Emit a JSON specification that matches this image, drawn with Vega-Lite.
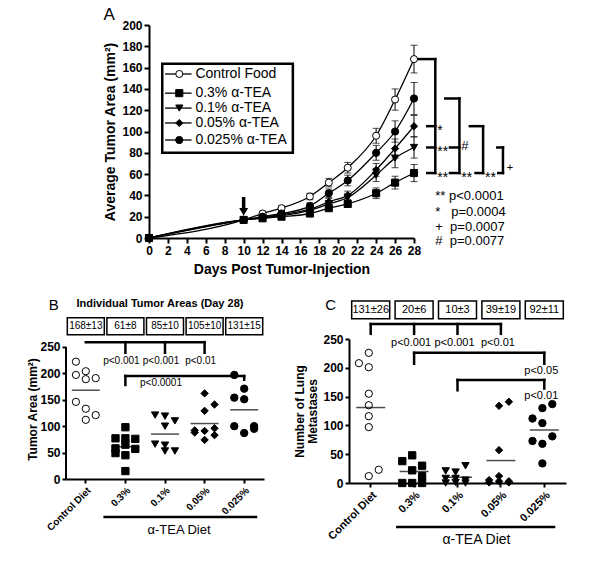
{
  "$schema": "https://vega.github.io/schema/vega-lite/v6.json",
  "background": "white",
  "padding": {"left": 26, "top": 6, "right": 5, "bottom": 5},
  "spacing": 21,
  "datasets": {
    "growth": [
      {"group": "Control Food", "day": 0, "v": 0, "lo": 0, "hi": 0},
      {"group": "Control Food", "day": 10, "v": 17, "lo": 16, "hi": 18},
      {"group": "Control Food", "day": 12, "v": 23, "lo": 21, "hi": 25},
      {"group": "Control Food", "day": 14, "v": 28, "lo": 26, "hi": 30},
      {"group": "Control Food", "day": 17, "v": 39, "lo": 36, "hi": 42},
      {"group": "Control Food", "day": 19, "v": 52, "lo": 48, "hi": 56},
      {"group": "Control Food", "day": 21, "v": 66, "lo": 61, "hi": 71},
      {"group": "Control Food", "day": 24, "v": 96, "lo": 89, "hi": 103},
      {"group": "Control Food", "day": 26, "v": 130, "lo": 120, "hi": 140},
      {"group": "Control Food", "day": 28, "v": 168, "lo": 155, "hi": 181},
      {"group": "0.025% α-TEA", "day": 0, "v": 0, "lo": 0, "hi": 0},
      {"group": "0.025% α-TEA", "day": 10, "v": 17, "lo": 16, "hi": 18},
      {"group": "0.025% α-TEA", "day": 12, "v": 20, "lo": 18.5, "hi": 21.5},
      {"group": "0.025% α-TEA", "day": 14, "v": 23, "lo": 21, "hi": 25},
      {"group": "0.025% α-TEA", "day": 17, "v": 30, "lo": 27, "hi": 33},
      {"group": "0.025% α-TEA", "day": 19, "v": 42, "lo": 38, "hi": 46},
      {"group": "0.025% α-TEA", "day": 21, "v": 54, "lo": 49, "hi": 59},
      {"group": "0.025% α-TEA", "day": 24, "v": 80, "lo": 73, "hi": 87},
      {"group": "0.025% α-TEA", "day": 26, "v": 100, "lo": 90, "hi": 110},
      {"group": "0.025% α-TEA", "day": 28, "v": 131, "lo": 116, "hi": 146},
      {"group": "0.05% α-TEA", "day": 0, "v": 0, "lo": 0, "hi": 0},
      {"group": "0.05% α-TEA", "day": 10, "v": 17, "lo": 16, "hi": 18},
      {"group": "0.05% α-TEA", "day": 12, "v": 19.5, "lo": 18, "hi": 21},
      {"group": "0.05% α-TEA", "day": 14, "v": 22, "lo": 20, "hi": 24},
      {"group": "0.05% α-TEA", "day": 17, "v": 27, "lo": 25, "hi": 29},
      {"group": "0.05% α-TEA", "day": 19, "v": 34, "lo": 31, "hi": 37},
      {"group": "0.05% α-TEA", "day": 21, "v": 40, "lo": 36, "hi": 44},
      {"group": "0.05% α-TEA", "day": 24, "v": 64, "lo": 58, "hi": 70},
      {"group": "0.05% α-TEA", "day": 26, "v": 84, "lo": 75, "hi": 93},
      {"group": "0.05% α-TEA", "day": 28, "v": 105, "lo": 95, "hi": 115},
      {"group": "0.1% α-TEA", "day": 0, "v": 0, "lo": 0, "hi": 0},
      {"group": "0.1% α-TEA", "day": 10, "v": 17, "lo": 16, "hi": 18},
      {"group": "0.1% α-TEA", "day": 12, "v": 19, "lo": 17.5, "hi": 20.5},
      {"group": "0.1% α-TEA", "day": 14, "v": 21, "lo": 19, "hi": 23},
      {"group": "0.1% α-TEA", "day": 17, "v": 26, "lo": 24, "hi": 28},
      {"group": "0.1% α-TEA", "day": 19, "v": 32, "lo": 29, "hi": 35},
      {"group": "0.1% α-TEA", "day": 21, "v": 38, "lo": 34, "hi": 42},
      {"group": "0.1% α-TEA", "day": 24, "v": 59, "lo": 53, "hi": 65},
      {"group": "0.1% α-TEA", "day": 26, "v": 75, "lo": 66, "hi": 84},
      {"group": "0.1% α-TEA", "day": 28, "v": 85, "lo": 75, "hi": 95},
      {"group": "0.3% α-TEA", "day": 0, "v": 0, "lo": 0, "hi": 0},
      {"group": "0.3% α-TEA", "day": 10, "v": 17, "lo": 16, "hi": 18},
      {"group": "0.3% α-TEA", "day": 12, "v": 18.5, "lo": 17.5, "hi": 19.5},
      {"group": "0.3% α-TEA", "day": 14, "v": 20, "lo": 18.5, "hi": 21.5},
      {"group": "0.3% α-TEA", "day": 17, "v": 23, "lo": 21, "hi": 25},
      {"group": "0.3% α-TEA", "day": 19, "v": 28, "lo": 26, "hi": 30},
      {"group": "0.3% α-TEA", "day": 21, "v": 32, "lo": 29, "hi": 35},
      {"group": "0.3% α-TEA", "day": 24, "v": 42, "lo": 37, "hi": 47},
      {"group": "0.3% α-TEA", "day": 26, "v": 52, "lo": 46, "hi": 58},
      {"group": "0.3% α-TEA", "day": 28, "v": 61, "lo": 53, "hi": 69}
    ],
    "legendA": [
      {"group": "Control Food", "v": 154},
      {"group": "0.3% α-TEA", "v": 136},
      {"group": "0.1% α-TEA", "v": 122},
      {"group": "0.05% α-TEA", "v": 108},
      {"group": "0.025% α-TEA", "v": 92}
    ],
    "bracketsA": [
      {"day": 28.5, "day2": 30.25, "v": 168, "v2": 168},
      {"day": 30.25, "day2": 30.25, "v": 168, "v2": 61},
      {"day": 29.4, "day2": 30.25, "v": 105, "v2": 105},
      {"day": 29.4, "day2": 30.25, "v": 85, "v2": 85},
      {"day": 29.4, "day2": 30.25, "v": 61, "v2": 61},
      {"day": 31.3, "day2": 32.8, "v": 131, "v2": 131},
      {"day": 32.8, "day2": 32.8, "v": 131, "v2": 61},
      {"day": 31.8, "day2": 32.8, "v": 85, "v2": 85},
      {"day": 31.8, "day2": 32.8, "v": 61, "v2": 61},
      {"day": 33.9, "day2": 35.3, "v": 105, "v2": 105},
      {"day": 35.3, "day2": 35.3, "v": 105, "v2": 61},
      {"day": 34.5, "day2": 35.3, "v": 61, "v2": 61},
      {"day": 36.8, "day2": 37.4, "v": 85, "v2": 85},
      {"day": 37.4, "day2": 37.4, "v": 85, "v2": 61},
      {"day": 36.9, "day2": 37.4, "v": 61, "v2": 61}
    ],
    "scatB": [
      {"diet": "Control Diet", "lane": "L", "v": 222},
      {"diet": "Control Diet", "lane": "L", "v": 197},
      {"diet": "Control Diet", "lane": "C", "v": 204},
      {"diet": "Control Diet", "lane": "C", "v": 189},
      {"diet": "Control Diet", "lane": "R", "v": 191},
      {"diet": "Control Diet", "lane": "L", "v": 146},
      {"diet": "Control Diet", "lane": "C", "v": 133},
      {"diet": "Control Diet", "lane": "C", "v": 112},
      {"diet": "Control Diet", "lane": "R", "v": 121},
      {"diet": "0.3%", "lane": "C", "v": 98},
      {"diet": "0.3%", "lane": "L", "v": 77},
      {"diet": "0.3%", "lane": "C", "v": 77},
      {"diet": "0.3%", "lane": "R", "v": 76},
      {"diet": "0.3%", "lane": "L", "v": 58},
      {"diet": "0.3%", "lane": "C", "v": 65},
      {"diet": "0.3%", "lane": "R", "v": 57},
      {"diet": "0.3%", "lane": "L", "v": 49},
      {"diet": "0.3%", "lane": "C", "v": 45},
      {"diet": "0.3%", "lane": "C", "v": 15},
      {"diet": "0.1%", "lane": "L", "v": 121},
      {"diet": "0.1%", "lane": "C", "v": 119},
      {"diet": "0.1%", "lane": "R", "v": 110},
      {"diet": "0.1%", "lane": "C", "v": 100},
      {"diet": "0.1%", "lane": "L", "v": 66},
      {"diet": "0.1%", "lane": "C", "v": 64},
      {"diet": "0.1%", "lane": "C", "v": 53},
      {"diet": "0.1%", "lane": "R", "v": 53},
      {"diet": "0.05%", "lane": "C", "v": 162},
      {"diet": "0.05%", "lane": "R", "v": 141},
      {"diet": "0.05%", "lane": "C", "v": 129},
      {"diet": "0.05%", "lane": "L", "v": 92},
      {"diet": "0.05%", "lane": "L", "v": 88},
      {"diet": "0.05%", "lane": "C", "v": 91},
      {"diet": "0.05%", "lane": "R", "v": 96},
      {"diet": "0.05%", "lane": "R", "v": 83},
      {"diet": "0.05%", "lane": "C", "v": 74},
      {"diet": "0.025%", "lane": "L", "v": 197},
      {"diet": "0.025%", "lane": "C", "v": 171},
      {"diet": "0.025%", "lane": "L", "v": 154},
      {"diet": "0.025%", "lane": "C", "v": 151},
      {"diet": "0.025%", "lane": "L", "v": 100},
      {"diet": "0.025%", "lane": "R", "v": 100},
      {"diet": "0.025%", "lane": "C", "v": 87},
      {"diet": "0.025%", "lane": "R", "v": 95}
    ],
    "statB": [
      {"diet": "Control Diet", "v": 168, "label": "168±13"},
      {"diet": "0.3%", "v": 61, "label": "61±8"},
      {"diet": "0.1%", "v": 85, "label": "85±10"},
      {"diet": "0.05%", "v": 105, "label": "105±10"},
      {"diet": "0.025%", "v": 131, "label": "131±15"}
    ],
    "bracketsB": [
      {"diet": "Control Diet", "diet2": "0.05%", "v": 259, "v2": 259},
      {"diet": "0.3%", "diet2": "0.3%", "v": 259, "v2": 239},
      {"diet": "0.1%", "diet2": "0.1%", "v": 259, "v2": 239},
      {"diet": "0.05%", "diet2": "0.05%", "v": 259, "v2": 239},
      {"diet": "0.3%", "diet2": "0.025%", "v": 195, "v2": 195},
      {"diet": "0.3%", "diet2": "0.3%", "v": 195, "v2": 178},
      {"diet": "0.025%", "diet2": "0.025%", "v": 195, "v2": 188}
    ],
    "pB": [
      {"diet": "0.3%", "v": 224, "label": "p<0.001"},
      {"diet": "0.1%", "v": 224, "label": "p<0.001"},
      {"diet": "0.05%", "v": 224, "label": "p<0.01"},
      {"diet": "0.1%", "v": 182, "label": "p<0.0001"}
    ],
    "scatC": [
      {"diet": "Control Diet", "lane": "C", "v": 226},
      {"diet": "Control Diet", "lane": "L", "v": 208},
      {"diet": "Control Diet", "lane": "C", "v": 201},
      {"diet": "Control Diet", "lane": "C", "v": 155},
      {"diet": "Control Diet", "lane": "C", "v": 135},
      {"diet": "Control Diet", "lane": "C", "v": 116},
      {"diet": "Control Diet", "lane": "C", "v": 97},
      {"diet": "Control Diet", "lane": "C", "v": 12},
      {"diet": "Control Diet", "lane": "R", "v": 23},
      {"diet": "0.3%", "lane": "L", "v": 38},
      {"diet": "0.3%", "lane": "C", "v": 48},
      {"diet": "0.3%", "lane": "R", "v": 30},
      {"diet": "0.3%", "lane": "C", "v": 22},
      {"diet": "0.3%", "lane": "R", "v": 12},
      {"diet": "0.3%", "lane": "L", "v": 0},
      {"diet": "0.3%", "lane": "C", "v": 0},
      {"diet": "0.3%", "lane": "R", "v": 0},
      {"diet": "0.1%", "lane": "L", "v": 21},
      {"diet": "0.1%", "lane": "C", "v": 19},
      {"diet": "0.1%", "lane": "R", "v": 30},
      {"diet": "0.1%", "lane": "L", "v": 8},
      {"diet": "0.1%", "lane": "C", "v": 8},
      {"diet": "0.1%", "lane": "R", "v": 5},
      {"diet": "0.1%", "lane": "C", "v": 1},
      {"diet": "0.1%", "lane": "R", "v": 0},
      {"diet": "0.1%", "lane": "L", "v": 0},
      {"diet": "0.05%", "lane": "C", "v": 134},
      {"diet": "0.05%", "lane": "R", "v": 141},
      {"diet": "0.05%", "lane": "C", "v": 57},
      {"diet": "0.05%", "lane": "C", "v": 12},
      {"diet": "0.05%", "lane": "L", "v": 5},
      {"diet": "0.05%", "lane": "C", "v": 3},
      {"diet": "0.05%", "lane": "R", "v": 3},
      {"diet": "0.05%", "lane": "R", "v": 1},
      {"diet": "0.05%", "lane": "L", "v": 1},
      {"diet": "0.025%", "lane": "C", "v": 130},
      {"diet": "0.025%", "lane": "R", "v": 137},
      {"diet": "0.025%", "lane": "L", "v": 112},
      {"diet": "0.025%", "lane": "C", "v": 104},
      {"diet": "0.025%", "lane": "L", "v": 73},
      {"diet": "0.025%", "lane": "C", "v": 68},
      {"diet": "0.025%", "lane": "R", "v": 81},
      {"diet": "0.025%", "lane": "C", "v": 34}
    ],
    "statC": [
      {"diet": "Control Diet", "v": 131, "label": "131±26"},
      {"diet": "0.3%", "v": 20, "label": "20±6"},
      {"diet": "0.1%", "v": 10, "label": "10±3"},
      {"diet": "0.05%", "v": 39, "label": "39±19"},
      {"diet": "0.025%", "v": 92, "label": "92±11"}
    ],
    "bracketsC": [
      {"diet": "Control Diet", "diet2": "0.05%", "v": 276, "v2": 276},
      {"diet": "Control Diet", "diet2": "Control Diet", "v": 276, "v2": 259},
      {"diet": "0.3%", "diet2": "0.3%", "v": 276, "v2": 259},
      {"diet": "0.1%", "diet2": "0.1%", "v": 276, "v2": 259},
      {"diet": "0.05%", "diet2": "0.05%", "v": 276, "v2": 259},
      {"diet": "0.3%", "diet2": "0.025%", "v": 226, "v2": 226},
      {"diet": "0.3%", "diet2": "0.3%", "v": 226, "v2": 207},
      {"diet": "0.025%", "diet2": "0.025%", "v": 226, "v2": 207},
      {"diet": "0.1%", "diet2": "0.025%", "v": 179, "v2": 179},
      {"diet": "0.1%", "diet2": "0.1%", "v": 179, "v2": 161},
      {"diet": "0.025%", "diet2": "0.025%", "v": 179, "v2": 164}
    ],
    "pC": [
      {"diet": "0.3%", "v": 243, "label": "p<0.001"},
      {"diet": "0.1%", "v": 243, "label": "p<0.001"},
      {"diet": "0.05%", "v": 243, "label": "p<0.01"},
      {"diet": "0.025%", "v": 194, "label": "p<0.05"},
      {"diet": "0.025%", "v": 151, "label": "p<0.01"}
    ]
  },
  "vconcat": [
    {
      "spacing": 20,
      "hconcat": [
        {
          "width": 17, "height": 10,
          "data": {"values": [{"k": 1}]},
          "mark": {"type": "point", "opacity": 0},
          "encoding": {}
        },
        {
          "width": 265, "height": 213,
          "layer": [
            {
              "data": {"name": "growth"},
              "mark": {"type": "line", "interpolate": "monotone", "color": "black", "strokeWidth": 1.3},
              "encoding": {
                "x": {"field": "day", "type": "quantitative", "scale": {"domain": [0, 28], "nice": false, "zero": false},
                      "axis": {"values": [0, 2, 4, 6, 8, 10, 12, 14, 16, 18, 20, 22, 24, 26, 28], "tickCount": 100, "format": "d", "title": "Days Post Tumor-Injection", "titleFontSize": 14, "titlePadding": 6, "labelFlush": false, "labelOverlap": false, "labelPadding": 2}},
                "y": {"field": "v", "type": "quantitative", "scale": {"domain": [0, 200], "nice": false},
                      "axis": {"values": [0, 20, 40, 60, 80, 100, 120, 140, 160, 180, 200], "tickCount": 100, "format": "d", "title": "Average Tumor Area (mm²)", "titleFontSize": 14, "titlePadding": 4, "labelPadding": 2, "labelOverlap": false}},
                "detail": {"field": "group", "type": "nominal"}
              }
            },
            {
              "data": {"name": "growth"},
              "mark": {"type": "rule", "color": "black", "strokeWidth": 1},
              "encoding": {
                "x": {"field": "day", "type": "quantitative"},
                "y": {"field": "lo", "type": "quantitative"},
                "y2": {"field": "hi"}
              }
            },
            {
              "data": {"name": "growth"},
              "mark": {"type": "tick", "orient": "horizontal", "size": 7, "thickness": 1, "color": "black"},
              "encoding": {
                "x": {"field": "day", "type": "quantitative"},
                "y": {"field": "lo", "type": "quantitative"}
              }
            },
            {
              "data": {"name": "growth"},
              "mark": {"type": "tick", "orient": "horizontal", "size": 7, "thickness": 1, "color": "black"},
              "encoding": {
                "x": {"field": "day", "type": "quantitative"},
                "y": {"field": "hi", "type": "quantitative"}
              }
            },
            {
              "data": {"name": "growth"},
              "mark": {"type": "point", "filled": true, "stroke": "black", "strokeWidth": 1, "opacity": 1},
              "encoding": {
                "x": {"field": "day", "type": "quantitative"},
                "y": {"field": "v", "type": "quantitative"},
                "shape": {"field": "group", "type": "nominal", "legend": null, "scale": {"domain": ["Control Food", "0.3% α-TEA", "0.1% α-TEA", "0.05% α-TEA", "0.025% α-TEA"], "range": ["circle", "square", "triangle-down", "diamond", "circle"]}},
                "fill": {"field": "group", "type": "nominal", "legend": null, "scale": {"domain": ["Control Food", "0.3% α-TEA", "0.1% α-TEA", "0.05% α-TEA", "0.025% α-TEA"], "range": ["white", "black", "black", "black", "black"]}},
                "size": {"field": "group", "type": "nominal", "legend": null, "scale": {"domain": ["Control Food", "0.3% α-TEA", "0.1% α-TEA", "0.05% α-TEA", "0.025% α-TEA"], "range": [50, 55, 50, 34, 55]}}
              }
            },
            {
              "data": {"values": [{"day": 10, "v": 38.5, "v2": 28}]},
              "mark": {"type": "rule", "strokeWidth": 3.5, "color": "black"},
              "encoding": {
                "x": {"field": "day", "type": "quantitative"},
                "y": {"field": "v", "type": "quantitative"},
                "y2": {"field": "v2"}
              }
            },
            {
              "data": {"values": [{"day": 10, "v": 24.5}]},
              "mark": {"type": "point", "shape": "triangle-down", "filled": true, "color": "black", "size": 80, "opacity": 1},
              "encoding": {
                "x": {"field": "day", "type": "quantitative"},
                "y": {"field": "v", "type": "quantitative"}
              }
            },
            {
              "data": {"values": [{"day": 1.4, "day2": 15.2, "v": 80, "v2": 163.5}]},
              "mark": {"type": "rect", "fill": "white", "stroke": "black", "strokeWidth": 2.5},
              "encoding": {
                "x": {"field": "day", "type": "quantitative"},
                "x2": {"field": "day2"},
                "y": {"field": "v", "type": "quantitative"},
                "y2": {"field": "v2"}
              }
            },
            {
              "data": {"name": "legendA"},
              "mark": {"type": "rule", "color": "black", "strokeWidth": 1.3},
              "encoding": {
                "x": {"datum": 1.7, "type": "quantitative"},
                "x2": {"datum": 4.5},
                "y": {"field": "v", "type": "quantitative"}
              }
            },
            {
              "data": {"name": "legendA"},
              "mark": {"type": "point", "filled": true, "stroke": "black", "strokeWidth": 1, "opacity": 1},
              "encoding": {
                "x": {"datum": 3.2, "type": "quantitative"},
                "y": {"field": "v", "type": "quantitative"},
                "shape": {"field": "group", "type": "nominal", "legend": null},
                "fill": {"field": "group", "type": "nominal", "legend": null},
                "size": {"field": "group", "type": "nominal", "legend": null}
              }
            },
            {
              "data": {"name": "legendA"},
              "mark": {"type": "text", "align": "left", "baseline": "middle", "fontSize": 14, "color": "black"},
              "encoding": {
                "x": {"datum": 4.9, "type": "quantitative"},
                "y": {"field": "v", "type": "quantitative"},
                "text": {"field": "group"}
              }
            },
            {
              "data": {"name": "bracketsA"},
              "mark": {"type": "rule", "color": "black", "strokeWidth": 2.5, "strokeCap": "square"},
              "encoding": {
                "x": {"field": "day", "type": "quantitative"},
                "x2": {"field": "day2"},
                "y": {"field": "v", "type": "quantitative"},
                "y2": {"field": "v2"}
              }
            },
            {
              "data": {"values": [
                {"day": 30.45, "v": 105, "t": "*"},
                {"day": 30.45, "v": 85, "t": "**"},
                {"day": 30.45, "v": 61, "t": "**"},
                {"day": 33.0, "v": 61, "t": "**"},
                {"day": 35.5, "v": 61, "t": "**"}
              ]},
              "mark": {"type": "text", "align": "left", "baseline": "middle", "fontSize": 14, "dy": 5, "color": "black"},
              "encoding": {
                "x": {"field": "day", "type": "quantitative"},
                "y": {"field": "v", "type": "quantitative"},
                "text": {"field": "t"}
              }
            },
            {
              "data": {"values": [{"day": 33.0, "v": 85, "t": "#"}]},
              "mark": {"type": "text", "align": "left", "baseline": "middle", "fontSize": 13, "dy": -1, "color": "black"},
              "encoding": {
                "x": {"field": "day", "type": "quantitative"},
                "y": {"field": "v", "type": "quantitative"},
                "text": {"field": "t"}
              }
            },
            {
              "data": {"values": [{"day": 37.8, "v": 61, "t": "+"}]},
              "mark": {"type": "text", "align": "left", "baseline": "middle", "fontSize": 11, "dy": -5, "color": "black"},
              "encoding": {
                "x": {"field": "day", "type": "quantitative"},
                "y": {"field": "v", "type": "quantitative"},
                "text": {"field": "t"}
              }
            },
            {
              "data": {"values": [
                {"day": 30.25, "v": 39.4, "t": "**\u00a0p<0.0001"},
                {"day": 30.25, "v": 24.4, "t": "*\u00a0\u00a0\u00a0p=0.0004"},
                {"day": 30.25, "v": 10.3, "t": "+\u00a0\u00a0p=0.0007"},
                {"day": 30.25, "v": -2.8, "t": "#\u00a0\u00a0p=0.0077"}
              ]},
              "mark": {"type": "text", "align": "left", "baseline": "middle", "fontSize": 13, "color": "black"},
              "encoding": {
                "x": {"field": "day", "type": "quantitative"},
                "y": {"field": "v", "type": "quantitative"},
                "text": {"field": "t"}
              }
            },
            {
              "data": {"values": [{"day": -4.2, "v": 209, "t": "A"}]},
              "mark": {"type": "text", "align": "center", "baseline": "middle", "fontSize": 17, "color": "black"},
              "encoding": {
                "x": {"field": "day", "type": "quantitative"},
                "y": {"field": "v", "type": "quantitative"},
                "text": {"field": "t"}
              }
            }
          ]
        }
      ]
    },
    {
      "spacing": 29,
      "hconcat": [
        {
          "width": 198, "height": 140,
          "layer": [
            {
              "data": {"name": "scatB"},
              "mark": {"type": "point", "filled": true, "stroke": "black", "strokeWidth": 1, "opacity": 1},
              "encoding": {
                "x": {"field": "diet", "type": "nominal", "sort": null,
                      "scale": {"type": "band", "domain": ["Control Diet", "0.3%", "0.1%", "0.05%", "0.025%"], "paddingInner": 0, "paddingOuter": 0},
                      "axis": {"title": null, "labelAngle": -45, "labelAlign": "right", "labelBaseline": "top", "labelFontSize": 10, "tickSize": 4, "labelPadding": 2}},
                "xOffset": {"field": "lane", "type": "nominal", "scale": {"type": "point", "domain": ["L", "C", "R"], "padding": 1.475}},
                "y": {"field": "v", "type": "quantitative", "scale": {"domain": [0, 265], "nice": false},
                      "axis": {"values": [0, 50, 100, 150, 200, 250], "tickCount": 100, "format": "d", "domain": false, "title": "Tumor Area (mm²)", "titleFontSize": 12, "titlePadding": 0, "tickSize": 4, "labelPadding": 2, "labelOverlap": false}},
                "shape": {"field": "diet", "type": "nominal", "legend": null, "scale": {"domain": ["Control Diet", "0.3%", "0.1%", "0.05%", "0.025%"], "range": ["circle", "square", "triangle-down", "diamond", "circle"]}},
                "fill": {"field": "diet", "type": "nominal", "legend": null, "scale": {"domain": ["Control Diet", "0.3%", "0.1%", "0.05%", "0.025%"], "range": ["white", "black", "black", "black", "black"]}},
                "size": {"field": "diet", "type": "nominal", "legend": null, "scale": {"domain": ["Control Diet", "0.3%", "0.1%", "0.05%", "0.025%"], "range": [40, 55, 45, 30, 50]}}
              }
            },
            {
              "data": {"values": [{"v": 0, "v2": 250}]},
              "mark": {"type": "rule", "color": "black", "strokeWidth": 2, "xOffset": -19.8},
              "encoding": {
                "x": {"datum": "Control Diet", "type": "nominal"},
                "y": {"field": "v", "type": "quantitative"},
                "y2": {"field": "v2"}
              }
            },
            {
              "data": {"name": "statB"},
              "mark": {"type": "tick", "size": 28, "thickness": 1.5, "color": "black"},
              "encoding": {
                "x": {"field": "diet", "type": "nominal"},
                "y": {"field": "v", "type": "quantitative"}
              }
            },
            {
              "data": {"name": "statB"},
              "mark": {"type": "bar", "fill": "white", "stroke": "black", "strokeWidth": 1.5, "width": 37},
              "encoding": {
                "x": {"field": "diet", "type": "nominal"},
                "y": {"datum": 273, "type": "quantitative"},
                "y2": {"datum": 305}
              }
            },
            {
              "data": {"name": "statB"},
              "mark": {"type": "text", "fontSize": 10, "baseline": "middle", "color": "black"},
              "encoding": {
                "x": {"field": "diet", "type": "nominal"},
                "y": {"datum": 289, "type": "quantitative"},
                "text": {"field": "label"}
              }
            },
            {
              "data": {"name": "bracketsB"},
              "mark": {"type": "rule", "color": "black", "strokeWidth": 2.5, "strokeCap": "square"},
              "encoding": {
                "x": {"field": "diet", "type": "nominal"},
                "x2": {"field": "diet2"},
                "y": {"field": "v", "type": "quantitative"},
                "y2": {"field": "v2"}
              }
            },
            {
              "data": {"name": "pB"},
              "mark": {"type": "text", "fontSize": 10, "baseline": "middle", "dx": -4, "color": "black"},
              "encoding": {
                "x": {"field": "diet", "type": "nominal"},
                "y": {"field": "v", "type": "quantitative"},
                "text": {"field": "label"}
              }
            },
            {
              "data": {"values": [{"v": -72}]},
              "mark": {"type": "rule", "color": "black", "strokeWidth": 2.5, "xOffset": -22, "x2Offset": 13},
              "encoding": {
                "x": {"datum": "0.3%", "type": "nominal"},
                "x2": {"datum": "0.025%"},
                "y": {"field": "v", "type": "quantitative"}
              }
            },
            {
              "data": {"values": [{"v": -96.6, "t": "α-TEA Diet"}]},
              "mark": {"type": "text", "fontSize": 13, "baseline": "middle", "dx": 14, "color": "black"},
              "encoding": {
                "x": {"datum": "0.1%", "type": "nominal"},
                "y": {"field": "v", "type": "quantitative"},
                "text": {"field": "t"}
              }
            },
            {
              "data": {"values": [{"v": 331, "t": "Individual Tumor Areas (Day 28)"}]},
              "mark": {"type": "text", "fontSize": 11, "fontWeight": "bold", "baseline": "middle", "dx": -5, "color": "black"},
              "encoding": {
                "x": {"datum": "0.1%", "type": "nominal"},
                "y": {"field": "v", "type": "quantitative"},
                "text": {"field": "t"}
              }
            },
            {
              "data": {"values": [{"v": 329.5, "t": "B"}]},
              "mark": {"type": "text", "fontSize": 15, "baseline": "middle", "dx": -32, "color": "black"},
              "encoding": {
                "x": {"datum": "Control Diet", "type": "nominal"},
                "y": {"field": "v", "type": "quantitative"},
                "text": {"field": "t"}
              }
            }
          ]
        },
        {
          "width": 217, "height": 144,
          "layer": [
            {
              "data": {"name": "scatC"},
              "mark": {"type": "point", "filled": true, "stroke": "black", "strokeWidth": 1, "opacity": 1},
              "encoding": {
                "x": {"field": "diet", "type": "nominal", "sort": null,
                      "scale": {"type": "band", "domain": ["Control Diet", "0.3%", "0.1%", "0.05%", "0.025%"], "paddingInner": 0, "paddingOuter": 0},
                      "axis": {"title": null, "labelAngle": -45, "labelAlign": "right", "labelBaseline": "top", "labelFontSize": 11, "tickSize": 4, "labelPadding": 2}},
                "xOffset": {"field": "lane", "type": "nominal", "scale": {"type": "point", "domain": ["L", "C", "R"], "padding": 1.55}},
                "y": {"field": "v", "type": "quantitative", "scale": {"domain": [0, 250], "nice": false},
                      "axis": {"values": [0, 50, 100, 150, 200, 250], "tickCount": 100, "format": "d", "title": ["Number of Lung", "Metastases"], "titleFontSize": 12, "titleLineHeight": 13, "titlePadding": 3, "tickSize": 4, "labelPadding": 2, "labelOverlap": false}},
                "shape": {"field": "diet", "type": "nominal", "legend": null, "scale": {"domain": ["Control Diet", "0.3%", "0.1%", "0.05%", "0.025%"], "range": ["circle", "square", "triangle-down", "diamond", "circle"]}},
                "fill": {"field": "diet", "type": "nominal", "legend": null, "scale": {"domain": ["Control Diet", "0.3%", "0.1%", "0.05%", "0.025%"], "range": ["white", "black", "black", "black", "black"]}},
                "size": {"field": "diet", "type": "nominal", "legend": null, "scale": {"domain": ["Control Diet", "0.3%", "0.1%", "0.05%", "0.025%"], "range": [45, 55, 45, 30, 55]}}
              }
            },
            {
              "data": {"name": "statC"},
              "mark": {"type": "tick", "size": 29, "thickness": 1.5, "color": "black"},
              "encoding": {
                "x": {"field": "diet", "type": "nominal"},
                "y": {"field": "v", "type": "quantitative"}
              }
            },
            {
              "data": {"name": "statC"},
              "mark": {"type": "bar", "fill": "white", "stroke": "black", "strokeWidth": 1.5, "width": 38},
              "encoding": {
                "x": {"field": "diet", "type": "nominal"},
                "y": {"datum": 285, "type": "quantitative"},
                "y2": {"datum": 316}
              }
            },
            {
              "data": {"name": "statC"},
              "mark": {"type": "text", "fontSize": 11, "baseline": "middle", "color": "black"},
              "encoding": {
                "x": {"field": "diet", "type": "nominal"},
                "y": {"datum": 300.5, "type": "quantitative"},
                "text": {"field": "label"}
              }
            },
            {
              "data": {"name": "bracketsC"},
              "mark": {"type": "rule", "color": "black", "strokeWidth": 2.5, "strokeCap": "square"},
              "encoding": {
                "x": {"field": "diet", "type": "nominal"},
                "x2": {"field": "diet2"},
                "y": {"field": "v", "type": "quantitative"},
                "y2": {"field": "v2"}
              }
            },
            {
              "data": {"name": "pC"},
              "mark": {"type": "text", "fontSize": 11, "baseline": "middle", "dx": -3, "color": "black"},
              "encoding": {
                "x": {"field": "diet", "type": "nominal"},
                "y": {"field": "v", "type": "quantitative"},
                "text": {"field": "label"}
              }
            },
            {
              "data": {"values": [{"v": -76.4}]},
              "mark": {"type": "rule", "color": "black", "strokeWidth": 2.5, "xOffset": -18, "x2Offset": 11},
              "encoding": {
                "x": {"datum": "0.3%", "type": "nominal"},
                "x2": {"datum": "0.025%"},
                "y": {"field": "v", "type": "quantitative"}
              }
            },
            {
              "data": {"values": [{"v": -99, "t": "α-TEA Diet"}]},
              "mark": {"type": "text", "fontSize": 14, "baseline": "middle", "dx": 19, "color": "black"},
              "encoding": {
                "x": {"datum": "0.1%", "type": "nominal"},
                "y": {"field": "v", "type": "quantitative"},
                "text": {"field": "t"}
              }
            },
            {
              "data": {"values": [{"v": 309, "t": "C"}]},
              "mark": {"type": "text", "fontSize": 15, "baseline": "middle", "dx": -40, "color": "black"},
              "encoding": {
                "x": {"datum": "Control Diet", "type": "nominal"},
                "y": {"field": "v", "type": "quantitative"},
                "text": {"field": "t"}
              }
            }
          ]
        }
      ]
    }
  ],
  "config": {
    "font": "Liberation Sans",
    "view": {"stroke": null},
    "axis": {"domainColor": "black", "domainWidth": 2, "tickColor": "black", "tickWidth": 2, "tickSize": 5, "labelColor": "black", "labelFontWeight": "bold", "labelFontSize": 12, "titleColor": "black", "titleFontWeight": "bold", "grid": false, "labelOverlap": false, "labelFlush": false},
    "text": {"color": "black"}
  }
}
